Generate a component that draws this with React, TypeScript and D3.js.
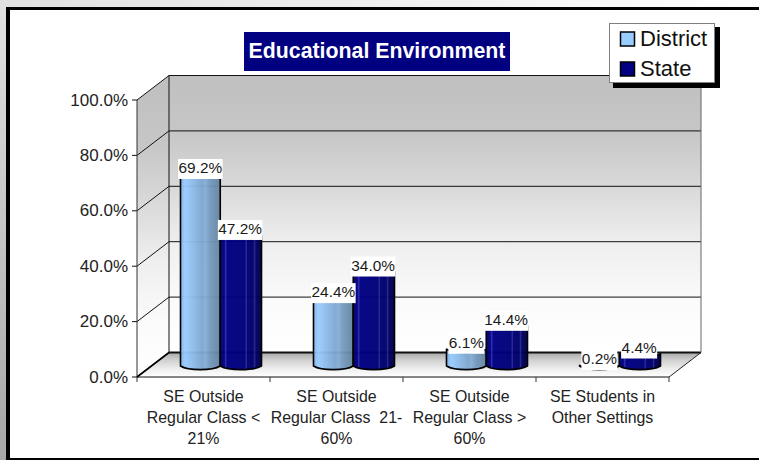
import * as d3 from 'd3';

const categories = ['c1', 'c2', 'c3', 'c4'];
const categoryLines = [
  ['SE Outside', 'Regular Class <', '21%'],
  ['SE Outside', 'Regular Class  21-', '60%'],
  ['SE Outside', 'Regular Class >', '60%'],
  ['SE Students in', 'Other Settings'],
];
const seriesNames = ['District', 'State'];
const districtValues = [69.2, 24.4, 6.1, 0.2];
const stateValues = [47.2, 34.0, 14.4, 4.4];
const yTicks = [0, 20, 40, 60, 80, 100];

const width = 759;
const height = 460;
const font = '"Liberation Sans", Arial, sans-serif';

// oblique offset of the 3D box
const depthX = 32;
const depthY = 24.5;
const rx0 = 137;
const rx1 = 669;

const xScale = d3.scaleBand<string>().domain(categories).range([rx0, rx1]);
const seriesScale = d3.scaleBand<string>().domain(seriesNames).range([43.5, 123]);
const yFront = d3.scaleLinear().domain([0, 100]).range([377, 100]);

// bars stand halfway into the floor
const barDrop = 11;
const barRy = 3.6;
const yBar = (v: number) => yFront(v) - barDrop;

function cylinder(x: number, w: number, v: number) {
  const top = yBar(v);
  const bottom = yBar(0);
  const p = d3.path();
  p.moveTo(x, top);
  p.lineTo(x, bottom);
  p.bezierCurveTo(x + w * 0.2, bottom + barRy * 1.35, x + w * 0.8, bottom + barRy * 1.35, x + w, bottom);
  p.lineTo(x + w, top);
  p.bezierCurveTo(x + w * 0.8, top + barRy * 1.35, x + w * 0.2, top + barRy * 1.35, x, top);
  p.closePath();
  return p.toString();
}

function BarLabel({ cx, v }: { cx: number; v: number }) {
  const text = v.toFixed(1) + '%';
  const w = text.length === 5 ? 44.5 : 36;
  const top = yBar(v);
  return (
    <g>
      <rect x={cx - w / 2} y={top + 4.7 - 20} width={w} height={20} fill="#fff" />
      <text x={cx} y={top - 1} textAnchor="middle" fontSize={15.4} fill="#1a1a1a">{text}</text>
    </g>
  );
}

export default function App() {
  const wallLeft = rx0 + depthX;
  const wallRight = rx1 + depthX;
  const wallTop = yFront(100) - depthY;
  const wallBottom = yFront(0) - depthY;

  const bars = categories.map((c, i) => ({
    x0: xScale(c)! + seriesScale('District')!,
    x1: xScale(c)! + seriesScale('State')!,
    w: seriesScale.bandwidth(),
    d: districtValues[i],
    s: stateValues[i],
  }));

  return (
    <svg width={width} height={height} fontFamily={font} style={{ position: 'absolute', left: 0, top: 0 }}>
      <defs>
        <linearGradient id="stripLeft" x1="0" y1="0" x2="0" y2="1">
          <stop offset="0" stopColor="#e2e2e2" />
          <stop offset="0.5" stopColor="#c4c4c4" />
          <stop offset="1" stopColor="#a6a6a6" />
        </linearGradient>
        <linearGradient id="stripTop" x1="0" y1="0" x2="1" y2="0">
          <stop offset="0" stopColor="#e0e0e0" />
          <stop offset="1" stopColor="#ffffff" />
        </linearGradient>
        <linearGradient id="wall" gradientUnits="userSpaceOnUse" x1="0" y1={wallTop} x2="0" y2={wallBottom}>
          <stop offset="0" stopColor="#c0c0c0" />
          <stop offset="0.2" stopColor="#c6c6c6" />
          <stop offset="0.4" stopColor="#d9d9d9" />
          <stop offset="0.6" stopColor="#eeeeee" />
          <stop offset="0.8" stopColor="#fafafa" />
          <stop offset="1" stopColor="#ffffff" />
        </linearGradient>
        <linearGradient id="sideWall" gradientUnits="userSpaceOnUse" x1="0" y1={wallTop + 10} x2="0" y2={yFront(0)}>
          <stop offset="0" stopColor="#c0c0c0" />
          <stop offset="0.2" stopColor="#c6c6c6" />
          <stop offset="0.4" stopColor="#d9d9d9" />
          <stop offset="0.6" stopColor="#eeeeee" />
          <stop offset="0.8" stopColor="#fafafa" />
          <stop offset="1" stopColor="#ffffff" />
        </linearGradient>
        <linearGradient id="floor" gradientUnits="userSpaceOnUse" x1="0" y1={wallBottom} x2="0" y2={yFront(0)}>
          <stop offset="0" stopColor="#a8a8a8" />
          <stop offset="0.3" stopColor="#cfcfcf" />
          <stop offset="0.7" stopColor="#f0f0f0" />
          <stop offset="1" stopColor="#ffffff" />
        </linearGradient>
        <linearGradient id="districtFill" x1="0" y1="0" x2="1" y2="0">
          <stop offset="0" stopColor="#7fb4ea" />
          <stop offset="0.12" stopColor="#99ccff" />
          <stop offset="0.3" stopColor="#8dbdec" />
          <stop offset="0.55" stopColor="#7ea6d0" />
          <stop offset="0.62" stopColor="#86aed8" />
          <stop offset="0.75" stopColor="#7398bd" />
          <stop offset="1" stopColor="#64849f" />
        </linearGradient>
        <linearGradient id="stateFill" x1="0" y1="0" x2="1" y2="0">
          <stop offset="0" stopColor="#00006a" />
          <stop offset="0.1" stopColor="#000088" />
          <stop offset="0.13" stopColor="#2a2aa6" />
          <stop offset="0.17" stopColor="#000084" />
          <stop offset="0.6" stopColor="#000078" />
          <stop offset="0.63" stopColor="#2a2a9c" />
          <stop offset="0.66" stopColor="#000074" />
          <stop offset="0.8" stopColor="#000068" />
          <stop offset="0.83" stopColor="#20208c" />
          <stop offset="0.87" stopColor="#000060" />
          <stop offset="1" stopColor="#000048" />
        </linearGradient>
      </defs>

      {/* slide background and frame */}
      <rect width={width} height={height} fill="#fff" />
      <rect x={0} y={0} width={width} height={8} fill="url(#stripTop)" />
      <rect x={0} y={0} width={7} height={height} fill="url(#stripLeft)" />
      <rect x={6} y={7} width={width - 6} height={3} fill="#000" />
      <rect x={6} y={7} width={4} height={height - 7} fill="#000" />
      <rect x={6} y={458} width={width - 6} height={2} fill="#000" />

      {/* 3D box */}
      <rect x={wallLeft} y={wallTop} width={wallRight - wallLeft} height={wallBottom - wallTop} fill="url(#wall)" />
      <polygon
        points={`${rx0},${yFront(0)} ${rx0},${yFront(100)} ${wallLeft},${wallTop} ${wallLeft},${wallBottom}`}
        fill="url(#sideWall)"
      />
      <polygon
        points={`${rx0},${yFront(0)} ${wallLeft},${wallBottom} ${wallRight},${wallBottom} ${rx1},${yFront(0)}`}
        fill="url(#floor)"
      />
      {yTicks.map(t => (
        <g key={t} fill="none" stroke="#111" strokeWidth={1}>
          <line x1={rx0} x2={wallLeft} y1={yFront(t)} y2={yFront(t) - depthY} />
          <line x1={wallLeft} x2={wallRight} y1={yFront(t) - depthY} y2={yFront(t) - depthY} strokeWidth={t === 0 ? 1.8 : 1} />
          <line x1={rx0 - 5} x2={rx0} y1={yFront(t)} y2={yFront(t)} />
        </g>
      ))}
      <line x1={wallLeft} x2={wallLeft} y1={wallTop} y2={wallBottom} stroke="#111" />
      <line x1={wallRight} x2={wallRight} y1={wallTop} y2={wallBottom} stroke="#666" />
      <line x1={rx0} x2={rx0} y1={yFront(100)} y2={yFront(0) + 5} stroke="#333" />
      <line x1={rx0} x2={rx1} y1={yFront(0)} y2={yFront(0)} stroke="#111" />
      <line x1={rx0} x2={wallLeft} y1={yFront(0)} y2={wallBottom} stroke="#000" strokeWidth={1.6} />
      <line x1={rx1} x2={wallRight} y1={yFront(0)} y2={wallBottom} stroke="#222" />
      {categories.map(c => (
        <line key={c} x1={xScale(c)! + xScale.bandwidth()} x2={xScale(c)! + xScale.bandwidth()} y1={yFront(0)} y2={yFront(0) + 5} stroke="#333" />
      ))}

      {/* y tick labels */}
      {yTicks.map(t => (
        <text key={t} x={128} y={yFront(t) + 5.5} textAnchor="end" fontSize={17} fill="#222">{t.toFixed(1)}%</text>
      ))}

      {/* cylinders */}
      {bars.map((b, i) => (
        <g key={i} strokeLinejoin="round">
          <path d={cylinder(b.x0, b.w, b.d)} fill={b.d < 1 ? '#fff' : 'url(#districtFill)'} fillOpacity={0.95} stroke="#000" strokeWidth={1.6} />
          <path d={cylinder(b.x1, b.w + 1.5, b.s)} fill="url(#stateFill)" fillOpacity={0.97} stroke="#000" strokeWidth={1.6} />
        </g>
      ))}
      {bars.map((b, i) => (
        <g key={i}>
          <BarLabel cx={b.x0 + b.w / 2} v={b.d} />
          <BarLabel cx={b.x1 + b.w / 2} v={b.s} />
        </g>
      ))}

      {/* category labels */}
      {categories.map((c, i) => (
        <text key={c} textAnchor="middle" fontSize={15.9} fill="#222" style={{ whiteSpace: 'pre' }}>
          {categoryLines[i].map((line, j) => (
            <tspan key={j} x={xScale(c)! + xScale.bandwidth() / 2} y={402 + j * 21.2}>{line}</tspan>
          ))}
        </text>
      ))}

      {/* title */}
      <rect x={244} y={32} width={266} height={39} fill="#000080" />
      <text x={377} y={58} textAnchor="middle" fontSize={21.3} fontWeight="bold" fill="#fff">Educational Environment</text>

      {/* legend */}
      <rect x={613} y={27} width={107} height={61} fill="#000" />
      <rect x={609.5} y={23.5} width={105} height={59} fill="#fff" stroke="#808080" />
      {seriesNames.map((name, i) => (
        <g key={name}>
          <rect
            x={620.5}
            y={32 + i * 30}
            width={14}
            height={14}
            fill={i === 0 ? '#99ccff' : '#000080'}
            stroke="#000"
            strokeWidth={1.5}
          />
          <text x={640} y={46 + i * 30} fontSize={22} fill="#111">{name}</text>
        </g>
      ))}
    </svg>
  );
}
